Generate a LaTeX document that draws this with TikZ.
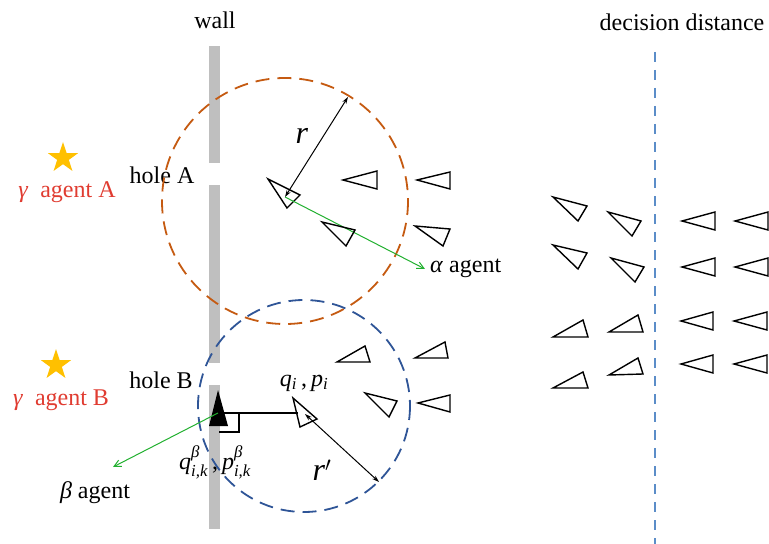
\documentclass[tikz,border=0pt]{standalone}
\usepackage{amsmath}
\usepackage{fontspec}
\setmainfont{Liberation Serif}
\usetikzlibrary{arrows.meta,shapes.geometric}
\definecolor{wallgray}{HTML}{BFBFBF}
\definecolor{orangec}{HTML}{C55A11}
\definecolor{bluec}{HTML}{2F5597}
\definecolor{decblue}{HTML}{5B8DC8}
\definecolor{agentred}{HTML}{E03C31}
\definecolor{stargold}{HTML}{FFC000}
\definecolor{greenarr}{HTML}{22B030}
\begin{document}
\begin{tikzpicture}[x=1bp,y=-1bp,
  font=\fontsize{24bp}{28bp}\selectfont,
  agent/.style={draw=black, line width=1.4bp, line join=miter},
  zone/.style={line width=1.8bp, dash pattern=on 14bp off 8bp},
  wallseg/.style={fill=wallgray, draw=none},
  goldstar/.style={star, star points=5, star point ratio=2.6, fill=stargold, draw=none, minimum size=32bp, inner sep=0pt},
  blackarr/.style={draw=black, line width=1bp, {Stealth[length=7bp,width=4.5bp]}-{Stealth[length=7bp,width=4.5bp]}},
  greenarrow/.style={draw=greenarr, line width=1bp, -{Straight Barb[length=7bp,width=7bp]}},
  lbl/.style={inner sep=0pt, anchor=center},
  redlbl/.style={lbl, text=agentred}
]
\useasboundingbox (0,0) rectangle (769,544);

% wall
\fill[wallseg] (209,46) rectangle (220,163);
\fill[wallseg] (209,185) rectangle (220,363);
\fill[wallseg] (209,385) rectangle (220,529);
\node[lbl] (wall) at (215,20) {wall};

% decision distance
\node[lbl] (dec) at (682,22) {decision distance};
\coordinate (decTop) at (655,52);
\coordinate (decBot) at (655,544);
\draw[decblue, line width=1.6bp, dash pattern=on 10bp off 8bp] (decTop) -- (decBot);

% stars and gamma agents
\node[goldstar] (starA) at (63,158) {};
\node[goldstar] (starB) at (56,365) {};
\node[redlbl] (gA) at (67,192) {\textit{γ}\ \ agent A};
\node[redlbl] (gB) at (61,400) {\textit{γ}\ \ agent B};
\node[lbl] (holeA) at (162,175) {hole A};
\node[lbl] (holeB) at (161,380) {hole B};

% sensing circles
\draw[zone, orangec] (285,201) circle [radius=123];
\draw[zone, bluec] (304,406) circle [radius=106];

% agent A (alpha region centre)
\draw[agent] (268,179) -- (300,195) -- (287,208) -- cycle;
\coordinate (agA) at (285,197);
\coordinate (rEnd) at (348,97);
\coordinate (alphaEnd) at (425,269);
\draw[blackarr] (agA) -- (rEnd);
\draw[greenarrow] (agA) -- (alphaEnd);
\node[lbl, font=\fontsize{32bp}{36bp}\selectfont] (rlbl) at (302,136) {\textit{r}};
\node[lbl, anchor=west] (alpha) at (430,268) {\textit{α} agent};

% top cluster agents
\draw[agent] (343,180) -- (377,171) -- (377,189) -- cycle;
\draw[agent] (417,180) -- (450,172) -- (450,189) -- cycle;
\draw[agent] (322,222) -- (355,230) -- (346,246) -- cycle;
\draw[agent] (415,226) -- (450,229) -- (443,246) -- cycle;

% bottom cluster agents
\draw[agent] (293,398) -- (317,419) -- (300,427) -- cycle;
\draw[agent] (337,362) -- (365,346) -- (370,362) -- cycle;
\draw[agent] (415,358) -- (445,342) -- (448,358) -- cycle;
\draw[agent] (365,393) -- (397,401) -- (389,417) -- cycle;
\draw[agent] (418,403) -- (450,395) -- (450,412) -- cycle;

% beta agent
\fill[black] (218,390) -- (228,426) -- (209,426) -- cycle;
\coordinate (beta) at (218,413);
\coordinate (agIedge) at (298,413);
\coordinate (agI) at (305,414);
\coordinate (rpEnd) at (379,482);
\coordinate (betaEnd) at (113,467);
\draw[black, line width=1.2bp] (beta) -- (agIedge);
\draw[black, line width=1.2bp] (219,432) -- (239,432) -- (239,413);
\draw[greenarrow] (beta) -- (betaEnd);
\draw[blackarr] (agI) -- (rpEnd);
\node[lbl, font=\fontsize{32bp}{36bp}\selectfont] (rplbl) at (322,470) {\textit{r}$'$};
\node[lbl] (qi) at (304,383) {\textit{q}\textsubscript{\textit{i}}\,,\,\textit{p}\textsubscript{\textit{i}}};
\node[lbl] (qb) at (215,462) {$\textit{q}^{\textit{β}}_{\textit{i,k}}$\,,\,$\textit{p}^{\textit{β}}_{\textit{i,k}}$};
\node[lbl] (blbl) at (95,493) {\textit{β} agent};

% right group, left of decision line
\draw[agent] (553,197) -- (587,206) -- (578,221) -- cycle;
\draw[agent] (608,212) -- (641,221) -- (632,236) -- cycle;
\draw[agent] (553,245) -- (587,253) -- (578,269) -- cycle;
\draw[agent] (611,258) -- (644,267) -- (635,282) -- cycle;
\draw[agent] (553,337) -- (583,320) -- (588,337) -- cycle;
\draw[agent] (609,332) -- (638,315) -- (643,332) -- cycle;
\draw[agent] (553,388) -- (583,372) -- (588,388) -- cycle;
\draw[agent] (609,375) -- (638,358) -- (643,374) -- cycle;

% right group, beyond decision line
\draw[agent] (682,221) -- (715,212) -- (715,230) -- cycle;
\draw[agent] (735,221) -- (768,212) -- (768,230) -- cycle;
\draw[agent] (682,267) -- (715,258) -- (715,276) -- cycle;
\draw[agent] (735,267) -- (768,258) -- (768,276) -- cycle;
\draw[agent] (681,321) -- (713,312) -- (713,330) -- cycle;
\draw[agent] (734,321) -- (767,312) -- (767,330) -- cycle;
\draw[agent] (681,364) -- (713,355) -- (713,373) -- cycle;
\draw[agent] (734,364) -- (767,355) -- (767,373) -- cycle;
\end{tikzpicture}
\end{document}
